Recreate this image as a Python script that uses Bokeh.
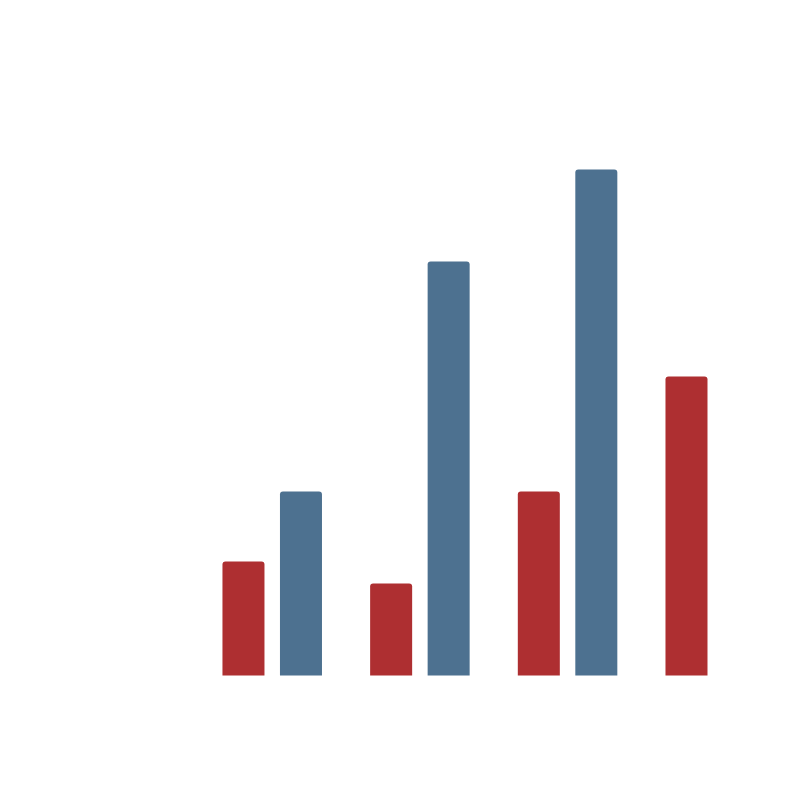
from bokeh.plotting import figure
from bokeh.models import Range1d
from bokeh.embed import file_html
from bokeh.resources import INLINE

groups = ["A", "B", "C", "D"]
red_values = [2.48, 2.0, 4.0, 6.5]
blue_values = [4.0, 9.0, 11.0, None]

RED = "#ae2f31"
BLUE = "#4d7190"

p = figure(width=784, height=779, output_backend="svg", toolbar_location=None,
           x_range=Range1d(-1.840, 3.469), y_range=Range1d(-2.261, 14.674),
           min_border=0)
p.axis.visible = False
p.grid.visible = False
p.outline_line_color = None
p.background_fill_color = "white"
p.border_fill_color = "white"

off = 0.1947
w = 0.2845
rx = [i - off for i, v in enumerate(red_values) if v is not None]
ry = [v for v in red_values if v is not None]
bx = [i + off for i, v in enumerate(blue_values) if v is not None]
by = [v for v in blue_values if v is not None]

p.vbar(x=rx, top=ry, bottom=0, width=w, fill_color=RED, line_color=None,
       border_radius=(3, 3, 0, 0))
p.vbar(x=bx, top=by, bottom=0, width=w, fill_color=BLUE, line_color=None,
       border_radius=(3, 3, 0, 0))

open("out.html", "w").write(file_html(p, INLINE))
